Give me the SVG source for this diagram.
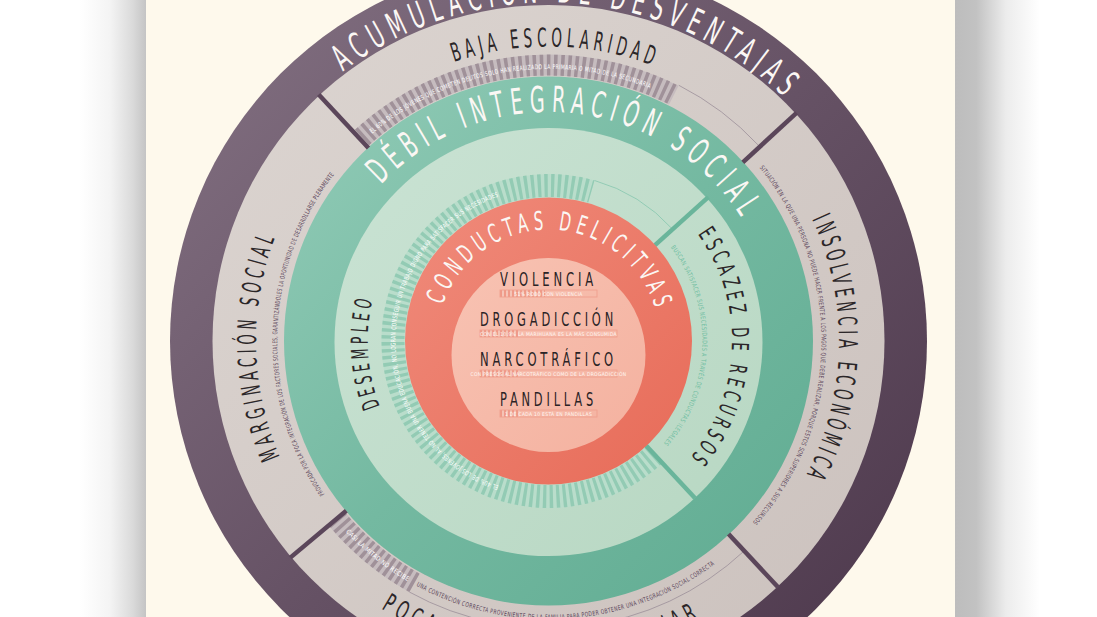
<svg xmlns="http://www.w3.org/2000/svg" width="1097" height="617" viewBox="0 0 1097 617">
<style>
.f{font-family:"Liberation Sans Narrow","DejaVu Sans Condensed","Liberation Sans",Arial,sans-serif;}
.ttl{font-size:26px;letter-spacing:0.3em;fill:#2b2628;}
.mid{font-size:23.5px;letter-spacing:0.3em;fill:#2b2628;}
.hero{font-size:36px;letter-spacing:0.3em;}
.wh{fill:#fbf7f4;}
.sm{font-size:6.5px;letter-spacing:0.08em;}
.smd{fill:#5b455a;}
.smw{fill:#ffffff;}
.smt{fill:#6fbda1;}
.inn{font-size:19.5px;letter-spacing:0.3em;fill:#2a2325;}
.bt{font-size:5px;letter-spacing:0.06em;fill:#fff6f2;}
.bar{fill:none;stroke:#f0a08f;stroke-width:0.9;}
.div1{stroke:#5b465a;stroke-width:4.5;}
.div2{stroke:#6ab59b;stroke-width:4.5;}
.trk1{fill:none;stroke:#9c8f99;stroke-width:0.8;}
.trk2{fill:none;stroke:#86c6ae;stroke-width:0.8;}
</style>
<defs>
<linearGradient id="gShL" x1="0" y1="0" x2="1" y2="0"><stop offset="0" stop-color="#ffffff"/><stop offset="0.45" stop-color="#f4f4f4"/><stop offset="0.8" stop-color="#dadada"/><stop offset="1" stop-color="#c4c4c4"/></linearGradient>
<linearGradient id="gShR" x1="0" y1="0" x2="1" y2="0"><stop offset="0" stop-color="#bdbdbd"/><stop offset="0.25" stop-color="#c2c2c2"/><stop offset="0.6" stop-color="#ececec"/><stop offset="1" stop-color="#ffffff"/></linearGradient>
<linearGradient id="gPur" x1="0" y1="0" x2="1" y2="1"><stop offset="0" stop-color="#857384"/><stop offset="0.5" stop-color="#665265"/><stop offset="1" stop-color="#4a3549"/></linearGradient>
<linearGradient id="gBei" x1="0" y1="0" x2="1" y2="1"><stop offset="0" stop-color="#dcd5d1"/><stop offset="1" stop-color="#cbc1bd"/></linearGradient>
<linearGradient id="gTeal" x1="0" y1="0" x2="1" y2="1"><stop offset="0" stop-color="#93ccb8"/><stop offset="0.5" stop-color="#74b9a1"/><stop offset="1" stop-color="#5fab91"/></linearGradient>
<linearGradient id="gLg" x1="0" y1="0" x2="1" y2="1"><stop offset="0" stop-color="#cae3d4"/><stop offset="1" stop-color="#b7d7c2"/></linearGradient>
<linearGradient id="gRed" x1="0" y1="0" x2="1" y2="1"><stop offset="0" stop-color="#f08b7b"/><stop offset="1" stop-color="#e76b58"/></linearGradient>
<linearGradient id="gPink" x1="0" y1="0" x2="1" y2="1"><stop offset="0" stop-color="#f8c3b3"/><stop offset="1" stop-color="#f4b19f"/></linearGradient>
<pattern id="pk" width="4" height="10" patternUnits="userSpaceOnUse"><rect width="4" height="10" fill="#f5c4b6"/><rect width="2" height="10" fill="#ef9a88"/></pattern>
<path id="pAcu" d="M -339.23,-22.83 A 340 340 0 0 1 339.23,22.83"/>
<path id="pBaja" d="M -294.42,-6.94 A 294.5 294.5 0 0 1 294.42,6.94"/>
<path id="pMarg" d="M 5.10,292.46 A 292.5 292.5 0 0 1 -5.10,-292.46"/>
<path id="pInso" d="M 8.36,-290.38 A 290.5 290.5 0 0 1 -8.36,290.38"/>
<path id="pPoca" d="M -315.41,-7.71 A 315.5 315.5 0 0 0 315.41,7.71"/>
<path id="pDebil" d="M -227.79,-23.54 A 229 229 0 0 1 227.79,23.54"/>
<path id="pCond" d="M -111.93,-3.91 A 112 112 0 0 1 111.93,3.91"/>
<path id="pDese" d="M 11.08,181.16 A 181.5 181.5 0 0 1 -11.08,-181.16"/>
<path id="pEsca" d="M 8.00,-183.33 A 183.5 183.5 0 0 1 -8.00,183.33"/>
<path id="pSa" d="M -269.94,43.96 A 273.5 273.5 0 0 1 269.94,-43.96"/>
<path id="pSb" d="M -8.32,272.37 A 272.5 272.5 0 0 1 8.32,-272.37"/>
<path id="pSc" d="M 5.48,-272.95 A 273 273 0 0 1 -5.48,272.95"/>
<path id="pSd" d="M -277.77,20.15 A 278.5 278.5 0 0 0 277.77,-20.15"/>
<path id="pSe" d="M -217.96,-173.37 A 278.5 278.5 0 0 0 217.96,173.37"/>
<path id="pSf" d="M 0,153 A 153 153 0 0 1 0,-153"/>
<path id="pSg" d="M 5.80,-154.39 A 154.5 154.5 0 0 1 -5.80,154.39"/>
</defs>

<rect width="1097" height="617" fill="#ffffff"/>
<rect x="80" y="0" width="66" height="617" fill="url(#gShL)"/>
<rect x="955" y="0" width="85" height="617" fill="url(#gShR)"/>
<rect x="146" y="0" width="809" height="617" fill="#fef9ec"/>

<g transform="translate(548.5,341)">
  <g id="acumulacion-desventajas">
    <circle r="378.5" fill="url(#gPur)"/>
    <text class="f hero wh"><textPath href="#pAcu" startOffset="50%" text-anchor="middle" textLength="487" lengthAdjust="spacingAndGlyphs">ACUMULACIÓN DE DESVENTAJAS</textPath></text>
  </g>
  <g id="anillo-beige">
    <circle r="336" fill="url(#gBei)"/>
  </g>
  <g id="baja-escolaridad">
    <path d="M -186.46,-203.49 A 276.5 276.5 0 0 1 125.30,-245.92" fill="none" stroke="#c6bcbf" stroke-width="21"/>
    <path d="M -186.46,-203.49 A 276.5 276.5 0 0 1 125.30,-245.92" fill="none" stroke="#a09199" stroke-width="21" stroke-dasharray="3.5 3.5"/>
    <path class="trk1" d="M 130.30,-255.72 A 287 287 0 0 1 209.90,-195.73"/>
    <text class="f sm smw"><textPath href="#pSa" startOffset="50%" text-anchor="middle" textLength="296" lengthAdjust="spacingAndGlyphs">EL 60% DE LOS JÓVENES QUE COMETEN DELITOS SOLO HAN REALIZADO LA PRIMARIA O MITAD DE LA SECUNDARIA</textPath></text>
    <text class="f ttl"><textPath href="#pBaja" startOffset="50%" text-anchor="middle" textLength="206.6" lengthAdjust="spacingAndGlyphs">BAJA ESCOLARIDAD</textPath></text>
  </g>
  <g id="marginacion-social">
    <text class="f sm smd"><textPath href="#pSb" startOffset="50%" text-anchor="middle" textLength="342" lengthAdjust="spacingAndGlyphs">PROVOCADA POR LA POCA INTEGRACIÓN DE LOS FACTORES SOCIALES, GARANTIZÁNDOLES LA OPORTUNIDAD DE DESARROLLARSE PLENAMENTE</textPath></text>
    <text class="f ttl"><textPath href="#pMarg" startOffset="50%" text-anchor="middle" textLength="228" lengthAdjust="spacingAndGlyphs">MARGINACIÓN SOCIAL</textPath></text>
  </g>
  <g id="insolvencia-economica">
    <text class="f sm smd"><textPath href="#pSc" startOffset="50%" text-anchor="middle" textLength="386" lengthAdjust="spacingAndGlyphs">SITUACIÓN EN LA QUE UNA PERSONA NO PUEDE HACER FRENTE A LOS PAGOS QUE DEBE REALIZAR, PORQUE ESTOS SON SUPERIORES A SUS RECURSOS</textPath></text>
    <text class="f ttl"><textPath href="#pInso" startOffset="50%" text-anchor="middle" textLength="268.7" lengthAdjust="spacingAndGlyphs">INSOLVENCIA ECONÓMICA</textPath></text>
  </g>
  <g id="poca-contencion-familiar">
    <path d="M -134.05,241.83 A 276.5 276.5 0 0 1 -211.81,177.73" fill="none" stroke="#c6bcbf" stroke-width="21"/>
    <path d="M -134.05,241.83 A 276.5 276.5 0 0 1 -211.81,177.73" fill="none" stroke="#a09199" stroke-width="21" stroke-dasharray="3.5 3.5"/>
    <path class="trk1" d="M 195.73,209.90 A 287 287 0 0 1 -139.14,251.02"/>
    <text class="f sm smw"><textPath href="#pSe" startOffset="50%" text-anchor="middle" textLength="80" lengthAdjust="spacingAndGlyphs">CASI LA MITAD NO RECIBE</textPath></text>
    <text class="f sm smd"><textPath href="#pSd" startOffset="50%" text-anchor="middle" textLength="316" lengthAdjust="spacingAndGlyphs">UNA CONTENCIÓN CORRECTA PROVENIENTE DE LA FAMILIA PARA PODER OBTENER UNA INTEGRACIÓN SOCIAL CORRECTA</textPath></text>
    <text class="f ttl"><textPath href="#pPoca" startOffset="50%" text-anchor="middle" textLength="337.5" lengthAdjust="spacingAndGlyphs">POCA CONTENCIÓN FAMILIAR</textPath></text>
  </g>
  <g id="debil-integracion-social">
    <circle r="264.5" fill="url(#gTeal)"/>
    <circle cy="1" r="214" fill="url(#gLg)"/>
    <text class="f hero wh"><textPath href="#pDebil" startOffset="50%" text-anchor="middle" textLength="422.5" lengthAdjust="spacingAndGlyphs">DÉBIL INTEGRACIÓN SOCIAL</textPath></text>
  </g>
  <g id="desempleo">
    <path d="M 106.05,113.72 A 155.5 155.5 0 1 1 42.86,-149.48" fill="none" stroke="#b9ddcb" stroke-width="23"/>
    <path d="M 106.05,113.72 A 155.5 155.5 0 1 1 42.86,-149.48" fill="none" stroke="#93cbb4" stroke-width="23" stroke-dasharray="3.3 3.3"/>
    <path class="trk2" d="M 46.03,-160.53 A 167 167 0 0 1 124.10,-111.75"/>
    <text class="f sm smw"><textPath href="#pSf" startOffset="50%" text-anchor="middle" textLength="379" lengthAdjust="spacingAndGlyphs">EL 40% DE LOS JÓVENES, AL NO TENER UNA BUENA EDUCACIÓN, NO LOGRAN CONSEGUIR UN TRABAJO DIGNO PARA SATISFACER SUS NECESIDADES</textPath></text>
    <text class="f mid"><textPath href="#pDese" startOffset="50%" text-anchor="middle" textLength="111.8" lengthAdjust="spacingAndGlyphs">DESEMPLEO</textPath></text>
  </g>
  <g id="escazez-de-recursos">
    <text class="f sm smt"><textPath href="#pSg" startOffset="50%" text-anchor="middle" textLength="213" lengthAdjust="spacingAndGlyphs">BUSCAN SATISFACER SUS NECESIDADES A TRAVÉS DE CONDUCTAS ILEGALES</textPath></text>
    <text class="f mid"><textPath href="#pEsca" startOffset="50%" text-anchor="middle" textLength="244" lengthAdjust="spacingAndGlyphs">ESCAZEZ DE RECURSOS</textPath></text>
  </g>
  <g id="separadores">
    <line class="div1" x1="-180.05" y1="-193.08" x2="-229.83" y2="-246.46"/>
    <line class="div1" x1="194.33" y1="-178.70" x2="248.07" y2="-228.11"/>
    <line class="div1" x1="180.05" y1="193.08" x2="229.83" y2="246.46"/>
    <line class="div1" x1="-202.23" y1="169.70" x2="-258.16" y2="216.62"/>
    <line class="div2" x1="106.27" y1="-95.69" x2="159.78" y2="-143.86"/>
    <line class="div2" x1="97.53" y1="104.58" x2="146.63" y2="157.24"/>
  </g>
  <g id="conductas-delictivas">
    <circle r="143.5" fill="url(#gRed)"/>
    <circle cy="14" r="97" fill="url(#gPink)"/>
    <text class="f ttl wh"><textPath href="#pCond" startOffset="50%" text-anchor="middle" textLength="285.4" lengthAdjust="spacingAndGlyphs">CONDUCTAS DELICITVAS</textPath></text>
  </g>
</g>

<g id="violencia">
  <text class="f inn" x="548.5" y="286" text-anchor="middle" textLength="97" lengthAdjust="spacingAndGlyphs">VIOLENCIA</text>
  <rect x="500" y="290" width="45" height="7" fill="url(#pk)"/>
  <rect class="bar" x="500" y="290" width="97" height="7"/>
  <text class="f bt" x="548.5" y="295.5" text-anchor="middle">51% ROBÓ CON VIOLENCIA</text>
</g>
<g id="drogadiccion">
  <text class="f inn" x="548.5" y="326" text-anchor="middle" textLength="137" lengthAdjust="spacingAndGlyphs">DROGADICCIÓN</text>
  <rect x="480" y="330" width="40" height="7" fill="url(#pk)"/>
  <rect class="bar" x="480" y="330" width="137" height="7"/>
  <text class="f bt" x="548.5" y="335.5" text-anchor="middle">CON EL 10.9% LA MARIHUANA ES LA MÁS CONSUMIDA</text>
</g>
<g id="narcotrafico">
  <text class="f inn" x="548.5" y="366" text-anchor="middle" textLength="137" lengthAdjust="spacingAndGlyphs">NARCOTRÁFICO</text>
  <rect x="480" y="370" width="40" height="7" fill="url(#pk)"/>
  <rect class="bar" x="480" y="370" width="137" height="7"/>
  <text class="f bt" x="548.5" y="375.5" text-anchor="middle">CON PRESOS AL NARCOTRÁFICO COMO DE LA DROGADICCIÓN</text>
</g>
<g id="pandillas">
  <text class="f inn" x="548.5" y="406" text-anchor="middle" textLength="97" lengthAdjust="spacingAndGlyphs">PANDILLAS</text>
  <rect x="500" y="410" width="20" height="7" fill="url(#pk)"/>
  <rect class="bar" x="500" y="410" width="97" height="7"/>
  <text class="f bt" x="548.5" y="415.5" text-anchor="middle">1 DE CADA 10 ESTÁ EN PANDILLAS</text>
</g>
</svg>
